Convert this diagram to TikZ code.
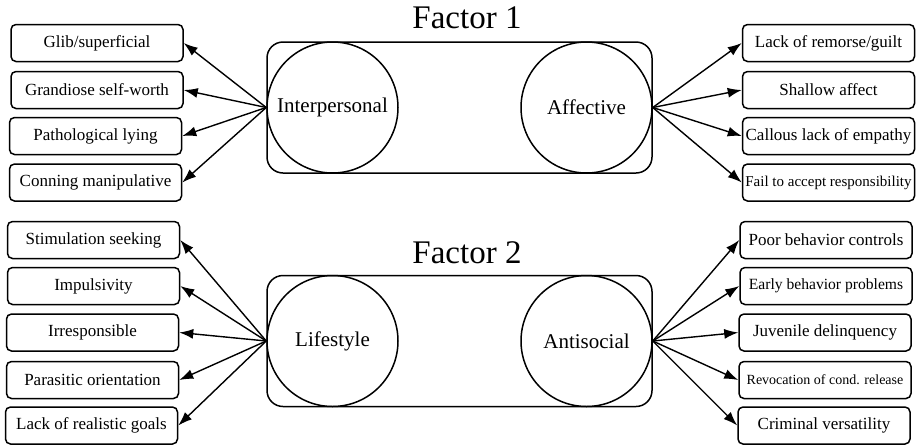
\documentclass[tikz,border=0pt]{standalone}
\usepackage{fontspec}
\setmainfont{Liberation Serif}
\usetikzlibrary{arrows.meta}
\tikzset{
  item/.style={draw, line width=1.5pt, rounded corners=5pt, minimum width=172pt, minimum height=37pt, inner sep=0pt, font=\fontsize{17}{19}\selectfont},
  factorbox/.style={draw, line width=1.5pt, rounded corners=16pt, minimum width=385pt, minimum height=131pt, inner sep=0pt},
  trait/.style={draw, circle, line width=1.5pt, minimum size=131pt, inner sep=0pt, font=\fontsize{21}{23}\selectfont},
  title/.style={font=\fontsize{33}{36}\selectfont},
  link/.style={line width=1.4pt, -{Latex[length=14pt,width=10pt]}}
}
\begin{document}
\begin{tikzpicture}[x=1pt,y=-1pt]
\useasboundingbox (0,0) rectangle (916,445);
% titles
\node[title] (t1) at (467,18) {Factor 1};
\node[title] (t2) at (467,253) {Factor 2};
% factor 1
\node[factorbox] (f1) at (459.5,107.5) {};
\node[trait] (ip) at (332.5,107.5) {Interpersonal};
\node[trait] (af) at (586.5,107.5) {Affective};
% factor 2
\node[factorbox] (f2) at (459.5,341) {};
\node[trait] (ls) at (332.5,341) {Lifestyle};
\node[trait] (as) at (586.5,341) {Antisocial};
% left top items
\node[item] (glib) at (97,43) {Glib/superficial};
\node[item] (gran) at (97,90) {Grandiose self-worth};
\node[item] (path) at (95.5,136) {Pathological lying};
\node[item] (conn) at (95.5,182.5) {Conning manipulative};
% right top items
\node[item] (rem) at (828.5,43) {Lack of remorse/guilt};
\node[item] (sha) at (828.5,90) {Shallow affect};
\node[item] (cal) at (828.5,136) {Callous lack of empathy};
\node[item, font=\fontsize{15}{16}\selectfont] (fail) at (828.5,182.5) {Fail to accept responsibility};
% left bottom items
\node[item] (stim) at (93.5,240) {Stimulation seeking};
\node[item] (imp) at (93.5,286) {Impulsivity};
\node[item] (irr) at (92.5,332.5) {Irresponsible};
\node[item] (par) at (92.5,380) {Parasitic orientation};
\node[item] (goal) at (91.5,425.5) {Lack of realistic goals};
% right bottom items
\node[item] (poor) at (826,240) {Poor behavior controls};
\node[item, font=\fontsize{15.6}{17}\selectfont] (early) at (826,286) {Early behavior problems};
\node[item] (juv) at (825,332.5) {Juvenile delinquency};
\node[item, font=\fontsize{14}{15}\selectfont] (rev) at (825,380) {Revocation of cond. release};
\node[item] (crim) at (824,425.5) {Criminal versatility};
% arrows
\foreach \t in {glib,gran,path,conn} \draw[link] (ip.west) -- (\t.east);
\foreach \t in {rem,sha,cal,fail} \draw[link] (af.east) -- (\t.west);
\foreach \t in {stim,imp,irr,par,goal} \draw[link] (ls.west) -- (\t.east);
\foreach \t in {poor,early,juv,rev,crim} \draw[link] (as.east) -- (\t.west);
\end{tikzpicture}
\end{document}
